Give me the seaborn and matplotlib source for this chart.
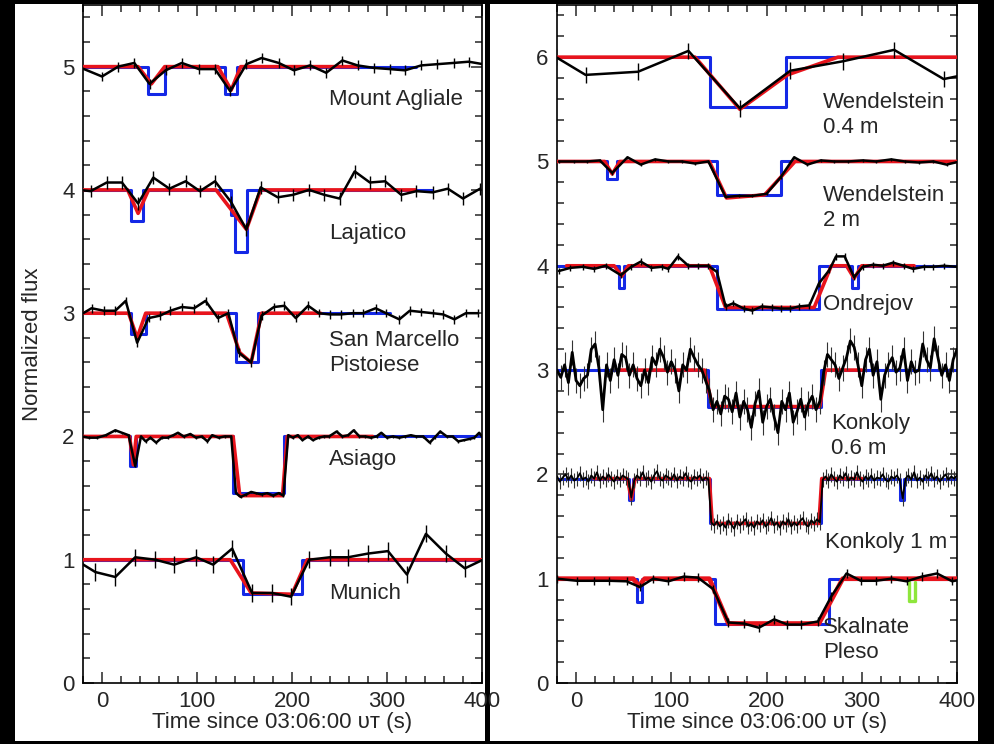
import numpy as np
import matplotlib
matplotlib.use('Agg')
import matplotlib.pyplot as plt
from matplotlib.patches import Rectangle
from matplotlib.ticker import MultipleLocator
import seaborn as sns

# ---------------- left panel data ----------------
# Mount Agliale (offset 5)
ma_t = [-22, 0, 17, 34, 50, 67, 84, 102, 119, 135, 152, 168, 186, 202, 219, 236, 253, 269, 286, 303, 319, 336, 353, 370, 386, 401]
ma_f = [4.99, 4.92, 5.00, 5.03, 4.86, 4.97, 5.03, 4.98, 4.98, 4.80, 5.02, 5.07, 5.03, 4.97, 5.01, 4.95, 5.05, 5.01, 4.99, 4.98, 4.97, 5.01, 5.02, 5.03, 5.04, 5.02]
ma_bt = [-20, 48, 48, 66, 66, 129, 129, 142, 142, 330]
ma_bf = [5, 5, 4.78, 4.78, 5, 5, 4.78, 4.78, 5, 5]
ma_rt = [-20, 38, 52, 66, 122, 136, 146, 270]
ma_rf = [5, 5, 4.86, 5, 5, 4.81, 5, 5]

# Lajatico (offset 4)
la_t = [-24, -12, 5, 21, 38, 54, 71, 88, 103, 119, 136, 152, 167, 185, 201, 218, 234, 250, 266, 282, 298, 315, 331, 348, 364, 380, 398]
la_f = [4.00, 3.99, 4.06, 4.06, 3.89, 4.10, 4.01, 4.07, 3.99, 4.07, 3.90, 3.68, 4.02, 3.94, 3.96, 4.00, 3.96, 3.93, 4.15, 4.06, 4.07, 3.96, 3.99, 3.98, 4.01, 3.93, 4.01]
la_bt = [-20, 30, 30, 43, 43, 136, 136, 140, 140, 153, 153, 347]
la_bf = [4, 4, 3.75, 3.75, 4, 4, 3.80, 3.80, 3.50, 3.50, 4, 4]
la_rt = [-20, 27, 38, 49, 120, 152, 167, 330]
la_rf = [4, 4, 3.81, 4, 4, 3.68, 4, 4]

# San Marcello Pistoiese (offset 3)
sm_t = [-22, -11, 2, 14, 25, 37, 49, 61, 72, 84, 97, 109, 122, 133, 144, 157, 168, 181, 192, 204, 217, 228, 240, 252, 264, 275, 288, 299, 313, 324, 336, 348, 359, 371, 383, 396]
sm_f = [2.99, 3.04, 3.02, 3.02, 3.10, 2.76, 2.96, 2.98, 3.02, 3.05, 3.04, 3.10, 2.96, 3.00, 2.68, 2.60, 2.98, 3.05, 3.06, 2.96, 3.06, 3.00, 2.99, 2.99, 3.00, 3.00, 3.04, 3.00, 2.95, 3.02, 3.01, 3.00, 2.99, 2.95, 3.00, 3.00]
sm_bt = [-20, 30, 30, 46, 46, 141, 141, 164, 164, 303]
sm_bf = [3, 3, 2.83, 2.83, 3, 3, 2.60, 2.60, 3, 3]
sm_rt = [-20, 28, 37, 46, 131, 145, 157, 168, 230]
sm_rf = [3, 3, 2.80, 3, 3, 2.68, 2.60, 3, 3]

# Asiago (offset 2)
as_t = [-21, -14, -5, 4, 14, 21, 28, 35, 41, 46, 51, 57, 63, 69, 75, 80, 86, 93, 99, 105, 111, 116, 123, 129, 136,
        141, 146, 152, 157, 162, 168, 174, 180, 186, 191, 196, 201, 206, 211, 217, 222, 228, 234, 239, 247, 253, 259,
        265, 271, 277, 283, 289, 294, 300, 306, 313, 319, 325, 331, 338, 345, 350, 356, 363, 369, 375, 381, 387, 392, 397, 400]
as_f = [2.00, 1.99, 1.99, 2.01, 2.05, 2.03, 2.01, 1.76, 2.00, 1.96, 1.99, 1.95, 1.99, 1.99, 2.01, 2.03, 2.00, 2.02, 1.99, 2.00, 1.96, 2.01, 1.99, 2.00, 2.00,
        1.54, 1.51, 1.53, 1.55, 1.54, 1.53, 1.54, 1.52, 1.54, 1.52, 2.01, 1.99, 2.01, 1.97, 2.00, 1.97, 1.99, 2.00, 2.00, 2.04, 2.00, 2.01,
        2.05, 2.00, 2.00, 1.99, 2.00, 2.03, 1.99, 2.00, 1.99, 2.00, 2.01, 2.00, 2.00, 1.95, 1.99, 2.04, 2.00, 2.00, 1.96, 1.97, 1.98, 1.99, 2.03, 2.00]
as_bt = [-20, 29, 29, 35.5, 35.5, 138, 138, 192, 192, 400]
as_bf = [2, 2, 1.76, 1.76, 2, 2, 1.545, 1.545, 2, 2]
as_rt = [-20, 29, 33, 36, 138, 145, 190, 195, 285]
as_rf = [2, 2, 1.77, 2, 2, 1.52, 1.52, 2, 2]

# Munich (offset 1)
mu_t = [-26, -7, 14, 35, 56, 76, 99, 117, 137, 158, 179, 199, 218, 240, 259, 280, 301, 321, 341, 362, 382, 401]
mu_f = [0.99, 0.90, 0.86, 1.02, 1.00, 0.96, 1.02, 0.96, 1.09, 0.73, 0.73, 0.70, 1.00, 1.02, 1.02, 1.05, 1.07, 0.88, 1.21, 1.05, 0.93, 1.00]
mu_bt = [-20, 148, 148, 210, 210, 400]
mu_bf = [1, 1, 0.72, 0.72, 1, 1]
mu_rt = [-20, 135, 157, 200, 216, 400]
mu_rf = [1, 1, 0.73, 0.72, 1, 1]

# ---------------- right panel data ----------------
# Wendelstein 0.4 m (offset 6)
w4_t = [-21, 10, 65, 118, 172, 225, 280, 334, 386, 402]
w4_f = [6.00, 5.83, 5.86, 6.06, 5.51, 5.87, 5.96, 6.07, 5.79, 5.82]
w4_bt = [-20, 141, 141, 220, 220, 400]
w4_bf = [6, 6, 5.52, 5.52, 6, 6]
w4_rt = [-20, 125, 172, 222, 275, 400]
w4_rf = [6, 6, 5.50, 5.83, 6, 6]

# Wendelstein 2 m (offset 5)
w2_t = [-18, -2, 12, 25, 38, 54, 68, 83, 97, 111, 125, 139, 157, 171, 185, 200, 215, 229, 243, 257, 271, 286, 301, 315, 331, 345, 360, 375, 389, 403]
w2_f = [5.00, 5.00, 5.00, 5.01, 4.89, 5.04, 4.97, 5.02, 5.00, 5.00, 4.98, 5.00, 4.66, 4.67, 4.67, 4.69, 4.85, 5.04, 4.97, 5.01, 5.00, 5.00, 5.01, 5.00, 5.02, 5.00, 4.99, 5.00, 4.97, 5.00]
w2_bt = [-20, 33, 33, 43, 43, 148, 148, 215, 215, 400]
w2_bf = [5, 5, 4.83, 4.83, 5, 5, 4.68, 4.68, 5, 5]
w2_rt = [-20, 30, 38, 46, 140, 158, 198, 230, 400]
w2_rf = [5, 5, 4.88, 5, 5, 4.65, 4.68, 5, 5]

# Ondrejov (offset 4)
on_t = [-18, -6, 7, 19, 31, 47, 58, 68, 79, 90, 97, 107, 118, 128, 139, 148, 157, 165, 176, 185, 195, 206, 215, 225, 234, 245, 255,
        266, 273, 282, 292, 301, 312, 322, 333, 344, 354, 365, 375, 386, 400]
on_f = [3.95, 3.98, 3.99, 3.97, 4.00, 3.91, 3.99, 4.04, 3.98, 3.99, 3.97, 4.09, 4.00, 4.00, 4.00, 3.94, 3.61, 3.64, 3.59, 3.57, 3.61, 3.60, 3.59, 3.59, 3.61, 3.62, 3.83,
        3.96, 4.09, 4.09, 3.89, 3.99, 4.01, 4.00, 4.03, 4.00, 3.97, 3.99, 3.99, 4.00, 3.99]
on_bt = [-20, 45, 45, 50, 50, 148, 148, 255, 255, 290, 290, 296, 296, 400]
on_bf = [4, 4, 3.79, 3.79, 4, 4, 3.59, 3.59, 4, 4, 3.79, 3.79, 4, 4]
on_rt = [-10, 40, 48, 55, 140, 157, 250, 268, 284, 292, 300, 355]
on_rf = [4, 4, 3.90, 4, 4, 3.60, 3.60, 4, 4, 3.88, 4, 4]

# Konkoly 0.6 m (offset 3), regular 4 s cadence
k6_t = np.arange(-20, 401, 4)
k6_f = [3.00, 2.93, 3.05, 2.88, 3.17, 2.90, 2.85, 2.92, 2.95, 3.20, 3.25, 3.02, 2.62, 3.05, 2.90, 3.10, 2.95, 3.15, 3.12, 2.95,
        3.05, 2.92, 2.85, 3.00, 2.88, 3.12, 3.05, 3.20, 3.12, 2.98, 3.08, 3.00, 2.80, 3.05, 3.00, 3.20, 3.12, 3.05, 3.00, 2.90,
        2.80, 2.62, 2.70, 2.58, 2.75, 2.72, 2.60, 2.78, 2.55, 2.70, 2.62, 2.45, 2.68, 2.80, 2.50, 2.65, 2.72, 2.55, 2.40, 2.70,
        2.62, 2.78, 2.50, 2.60, 2.72, 2.55, 2.68, 2.75, 2.62, 2.70, 2.98, 3.15, 3.10, 3.05, 2.92, 3.02, 3.12, 3.28, 3.22, 3.05,
        2.85, 3.10, 3.20, 2.95, 3.08, 2.72, 2.95, 3.05, 3.12, 2.98, 3.02, 3.20, 2.90, 3.08, 2.98, 3.00, 3.25, 3.10, 3.02, 3.30,
        3.12, 2.95, 3.05, 2.90, 3.10, 3.20]
k6_bt = [-20, 139, 139, 257, 257, 400]
k6_bf = [3, 3, 2.65, 2.65, 3, 3]
k6_rt = [45, 135, 143, 256, 262, 300]
k6_rf = [3, 3, 2.65, 2.65, 3, 3]

# Konkoly 1 m (offset ~2), regular 3 s cadence
k1_t = np.arange(-20, 401, 3)
k1_f = [1.98, 1.93, 1.97, 2.00, 1.95, 1.99, 1.94, 1.96, 2.01, 1.95,
        1.97, 1.93, 1.99, 1.96, 2.02, 1.94, 1.98, 1.95, 2.00, 1.96,
        1.93, 1.98, 1.95, 1.99, 1.97, 1.95, 1.78, 1.94, 1.99, 1.96,
        2.02, 1.95, 1.97, 1.93, 1.99, 2.03, 1.96, 1.94, 1.99, 1.97,
        1.95, 2.00, 1.94, 1.98, 1.96, 2.01, 1.95, 1.93, 1.98, 1.96,
        1.99, 1.94, 1.97, 1.95, 1.54, 1.51, 1.55, 1.50, 1.53, 1.49,
        1.56, 1.52, 1.48, 1.55, 1.51, 1.54, 1.57, 1.50, 1.53, 1.49,
        1.55, 1.52, 1.56, 1.50, 1.53, 1.58, 1.51, 1.54, 1.49, 1.55,
        1.52, 1.57, 1.50, 1.54, 1.51, 1.55, 1.58, 1.52, 1.50, 1.56,
        1.53, 1.57, 1.54, 1.95, 1.98, 1.94, 2.00, 1.96, 1.93, 1.99,
        1.96, 2.01, 1.94, 1.97, 1.95, 2.02, 1.96, 1.93, 1.98, 1.95,
        1.99, 1.94, 1.97, 1.96, 2.00, 1.95, 1.93, 1.98, 1.96, 1.99,
        1.94, 1.77, 1.96, 1.99, 1.95, 2.02, 1.94, 1.97, 1.93, 1.99,
        1.96, 2.01, 1.95, 1.98, 1.93, 1.97, 2.00, 1.95, 1.98, 1.96, 1.99]
k1_bt = [-20, 56, 56, 60, 60, 141, 141, 257, 257, 340, 340, 344, 344, 400]
k1_bf = [1.96, 1.96, 1.75, 1.75, 1.96, 1.96, 1.53, 1.53, 1.96, 1.96, 1.75, 1.75, 1.96, 1.96]
k1_rt = [19, 54, 58, 62, 140, 143, 255, 258, 300]
k1_rf = [1.96, 1.96, 1.76, 1.96, 1.96, 1.53, 1.53, 1.96, 1.96]

# Skalnate Pleso (offset 1)
sp_t = [-20, 1, 19, 35, 53, 67, 81, 97, 113, 128, 144, 160, 176, 192, 208, 222, 236, 254, 268, 284, 299, 315, 331, 347, 363, 379, 395, 403]
sp_f = [1.00, 0.98, 0.98, 0.98, 0.975, 0.92, 1.00, 0.975, 1.02, 1.01, 0.90, 0.58, 0.57, 0.53, 0.61, 0.56, 0.56, 0.59, 0.83, 1.05, 0.98, 0.98, 1.00, 0.975, 1.02, 1.05, 0.975, 0.99]
sp_bt = [-20, 64, 64, 69, 69, 146, 146, 266, 266, 400]
sp_bf = [1, 1, 0.78, 0.78, 1, 1, 0.57, 0.57, 1, 1]
sp_rt = [-20, 60, 66, 72, 140, 160, 255, 280, 400]
sp_rf = [1, 1, 0.93, 1, 1, 0.57, 0.57, 1, 1]
sp_gt = [350, 350, 356, 356]
sp_gf = [0.97, 0.79, 0.79, 0.97]

# labels
left_names = ['Mount Agliale', 'Lajatico', 'San Marcello\nPistoiese', 'Asiago', 'Munich']
left_name_x = [239, 239, 239, 239, 239]
left_name_y = [4.73, 3.65, 2.675, 1.81, 0.73]
right_names = ['Wendelstein\n0.4 m', 'Wendelstein\n2 m', 'Ondrejov', 'Konkoly\n0.6 m', 'Konkoly 1 m', 'Skalnate\nPleso']
right_name_x = [259, 259, 259, 268, 261, 259]
right_name_y = [5.445, 4.55, 3.63, 2.365, 1.35, 0.41]

RED = '#e8141c'
BLUE = '#1428e6'
GREEN = '#8ee63c'


def station(ax, t, f, err, bt, bf, rt, rf, lw=1.8, rlw=2.6, ecol='black', elw=1.0):
    sns.lineplot(x=bt, y=bf, ax=ax, color=BLUE, lw=2.2, sort=False, estimator=None, zorder=2)
    sns.lineplot(x=rt, y=rf, ax=ax, color=RED, lw=rlw, sort=False, estimator=None, zorder=3)
    ax.errorbar(t, f, yerr=err, fmt='none', ecolor=ecol, elinewidth=elw, zorder=4)
    sns.lineplot(x=t, y=f, ax=ax, color='black', lw=lw, sort=False, estimator=None, zorder=5)


sns.set_style('ticks')
plt.rcParams['font.family'] = ['Liberation Sans', 'DejaVu Sans']
plt.rcParams['font.size'] = 16

fig = plt.figure(figsize=(9.95, 7.44), dpi=100, facecolor='black')
fig.add_artist(Rectangle((15 / 995, 3 / 744), 470 / 995, 737 / 744, transform=fig.transFigure,
                         facecolor='white', edgecolor='none', zorder=-5))
fig.add_artist(Rectangle((490 / 995, 3 / 744), 488 / 995, 737 / 744, transform=fig.transFigure,
                         facecolor='white', edgecolor='none', zorder=-5))

ax1 = fig.add_axes([83 / 995, 61 / 744, 399 / 995, 678 / 744])
ax2 = fig.add_axes([557 / 995, 61 / 744, 400 / 995, 678 / 744])

station(ax1, ma_t, ma_f, 0.04, ma_bt, ma_bf, ma_rt, ma_rf)
station(ax1, la_t, la_f, 0.05, la_bt, la_bf, la_rt, la_rf)
station(ax1, sm_t, sm_f, 0.035, sm_bt, sm_bf, sm_rt, sm_rf)
station(ax1, as_t, as_f, 0.01, as_bt, as_bf, as_rt, as_rf)
station(ax1, mu_t, mu_f, 0.07, mu_bt, mu_bf, mu_rt, mu_rf)

station(ax2, w4_t, w4_f, 0.08, w4_bt, w4_bf, w4_rt, w4_rf)
station(ax2, w2_t, w2_f, 0.015, w2_bt, w2_bf, w2_rt, w2_rf)
station(ax2, on_t, on_f, 0.03, on_bt, on_bf, on_rt, on_rf)
station(ax2, k6_t, k6_f, 0.12, k6_bt, k6_bf, k6_rt, k6_rf, lw=2.0, ecol='#333333', elw=0.8)
station(ax2, k1_t, k1_f, 0.07, k1_bt, k1_bf, k1_rt, k1_rf, lw=1.3, ecol='#333333', elw=0.8)
station(ax2, sp_t, sp_f, 0.04, sp_bt, sp_bf, sp_rt, sp_rf, rlw=3.4)
sns.lineplot(x=sp_gt, y=sp_gf, ax=ax2, color=GREEN, lw=2.4, sort=False, estimator=None, zorder=3)

for name, x, y in zip(left_names, left_name_x, left_name_y):
    ax1.text(x, y, name, ha='left', va='center', fontsize=16, linespacing=1.25)
for name, x, y in zip(right_names, right_name_x, right_name_y):
    ax2.text(x, y, name, ha='left', va='center', fontsize=16, linespacing=1.25)

for ax, top in [(ax1, 5.5), (ax2, 6.5)]:
    ax.set_xlim(-20, 400)
    ax.set_ylim(0, top)
    ax.xaxis.set_major_locator(MultipleLocator(100))
    ax.xaxis.set_minor_locator(MultipleLocator(20))
    ax.yaxis.set_major_locator(MultipleLocator(1))
    ax.yaxis.set_minor_locator(MultipleLocator(0.2))
    ax.tick_params(which='both', direction='in', top=True, right=True, labelsize=16, width=1.1, pad=6)
    ax.tick_params(which='major', length=8)
    ax.tick_params(which='minor', length=5)
    for s in ax.spines.values():
        s.set_linewidth(1.2)
        s.set_color('black')
    ax.set_xlabel('Time since 03:06:00 \u1d1c\u1d1b (s)', fontsize=16, labelpad=0)
    ax.set_ylabel('')

ax1.set_ylabel('Normalized flux', fontsize=16, labelpad=14)

fig.savefig('out.png', dpi=100, facecolor='black')
